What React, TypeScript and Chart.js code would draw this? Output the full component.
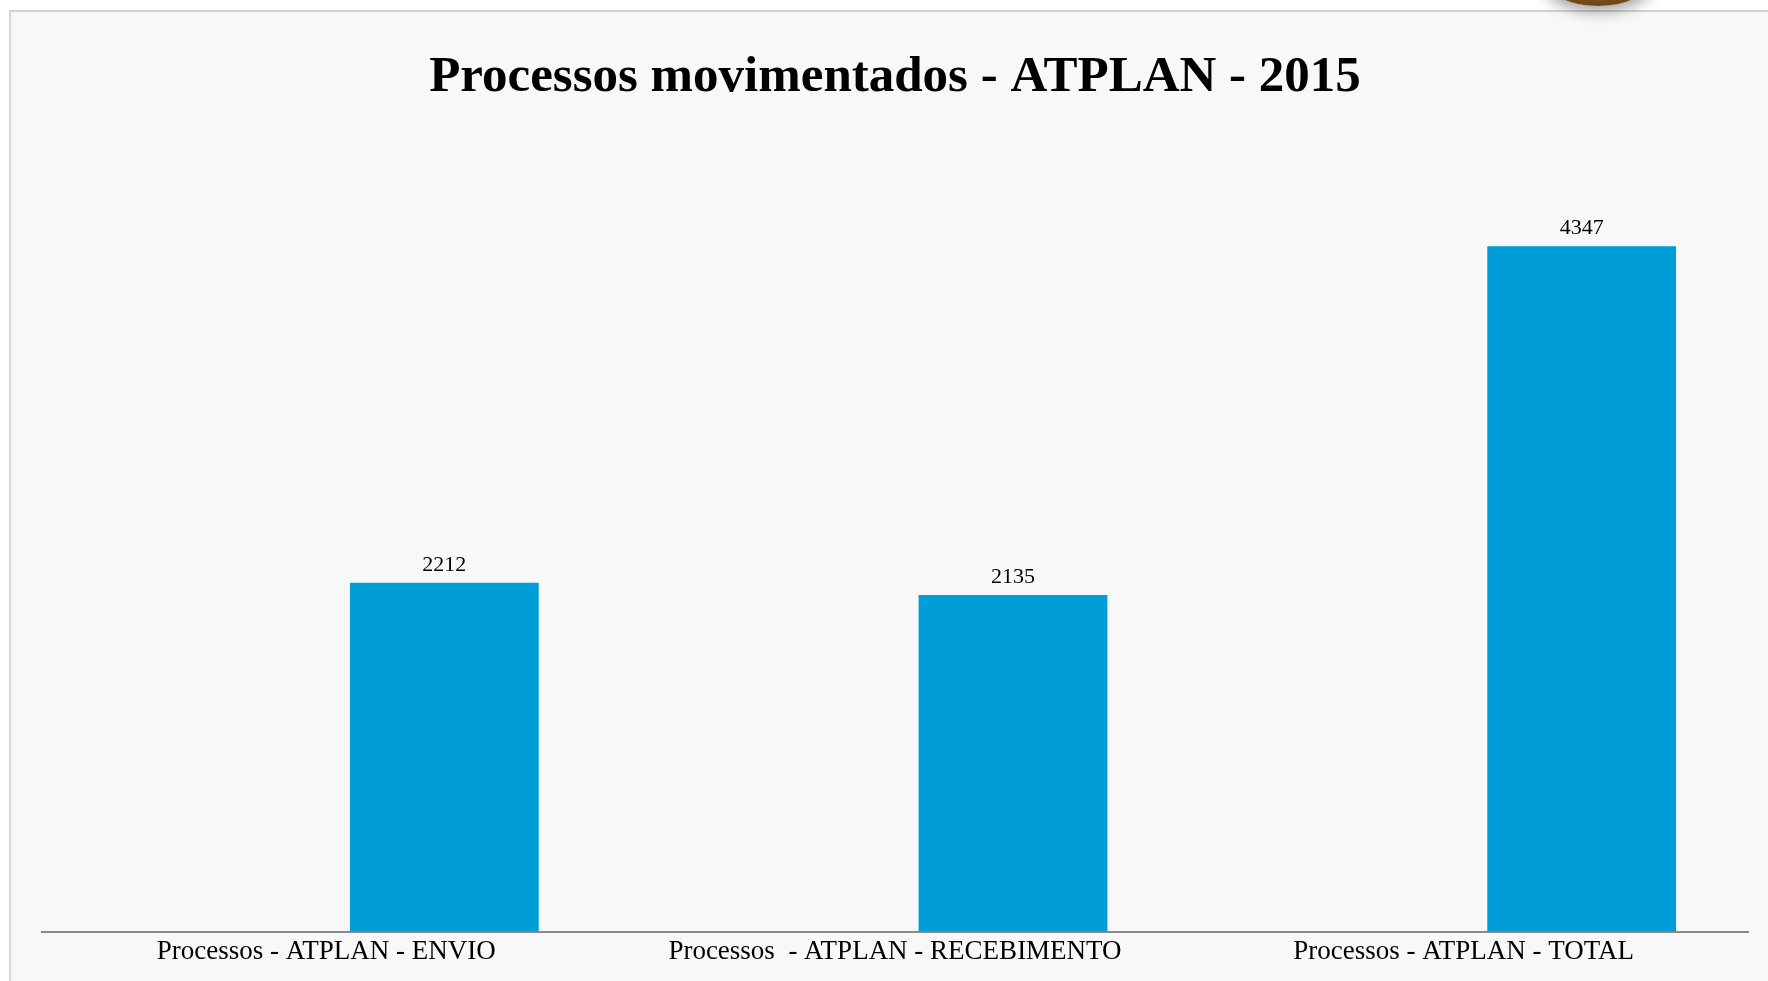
import React, { useEffect, useRef } from "react";
import { Chart, registerables } from "chart.js";

Chart.register(...registerables);

const TITLE = "Processos movimentados - ATPLAN - 2015";
const categories = [
  "Processos - ATPLAN - ENVIO",
  "Processos  - ATPLAN - RECEBIMENTO",
  "Processos - ATPLAN - TOTAL",
];
const placeholderSeries: (number | null)[] = [null, null, null];
const processValues = [2212, 2135, 4347];
const Y_MAX = 5000;

const valueLabels = {
  id: "valueLabels",
  afterDatasetsDraw(chart: any) {
    const ctx = chart.ctx;
    const meta = chart.getDatasetMeta(1);
    ctx.save();
    ctx.font = "22px 'Liberation Serif', serif";
    ctx.fillStyle = "#000";
    ctx.textAlign = "center";
    ctx.textBaseline = "bottom";
    meta.data.forEach((bar: any, i: number) => {
      const v = chart.data.datasets[1].data[i];
      if (v == null) return;
      ctx.fillText(String(v), bar.x, bar.y - 7);
    });
    ctx.restore();
  },
};

export default function App() {
  const ref = useRef<HTMLCanvasElement>(null);
  useEffect(() => {
    if (!ref.current) return;
    const chart = new Chart(ref.current, {
      type: "bar",
      data: {
        labels: categories,
        datasets: [
          { label: "", data: placeholderSeries, backgroundColor: "#009DD9" },
          { label: "Processos", data: processValues, backgroundColor: "#009DD9" },
        ],
      },
      options: {
        responsive: false,
        animation: false,
        maintainAspectRatio: false,
        layout: { padding: { left: 42, right: 20, top: 0, bottom: 17 } },
        categoryPercentage: 0.83,
        barPercentage: 0.8,
        plugins: {
          legend: { display: false },
          tooltip: { enabled: false },
          title: {
            display: true,
            text: TITLE,
            color: "#000",
            font: { family: "'Liberation Serif', serif", size: 51, weight: "bold" },
            padding: { top: 47, bottom: 35 },
          },
        },
        scales: {
          x: {
            grid: { display: false },
            border: { display: true, color: "#8a8a8a", width: 2 },
            ticks: {
              color: "#000",
              padding: -4,
              maxRotation: 0,
              autoSkip: false,
              font: { family: "'Liberation Serif', serif", size: 27 },
            },
          },
          y: {
            display: false,
            min: 0,
            max: Y_MAX,
          },
        },
      } as any,
      plugins: [valueLabels],
    });
    return () => chart.destroy();
  }, []);

  return (
    <div
      style={{
        position: "fixed",
        left: 0,
        top: 0,
        width: 1768,
        height: 981,
        background: "#ffffff",
        overflow: "hidden",
      }}
    >
      <div
        style={{
          position: "absolute",
          left: 9,
          top: 10,
          right: 0,
          bottom: 0,
          background: "#f8f8f8",
          borderTop: "2px solid #d2d2d2",
          borderLeft: "2px solid #d6d6d6",
        }}
      />
      <div
        style={{
          position: "absolute",
          left: 1548,
          top: -42,
          width: 100,
          height: 48,
          borderRadius: "50%",
          background: "radial-gradient(ellipse at center, #9a6a28 0%, #6e4514 70%)",
          boxShadow: "0 0 14px 6px rgba(0,0,0,0.35)",
        }}
      />
      <canvas
        ref={ref}
        width={1768}
        height={981}
        style={{ position: "absolute", left: 0, top: 0, width: 1768, height: 981 }}
      />
    </div>
  );
}
